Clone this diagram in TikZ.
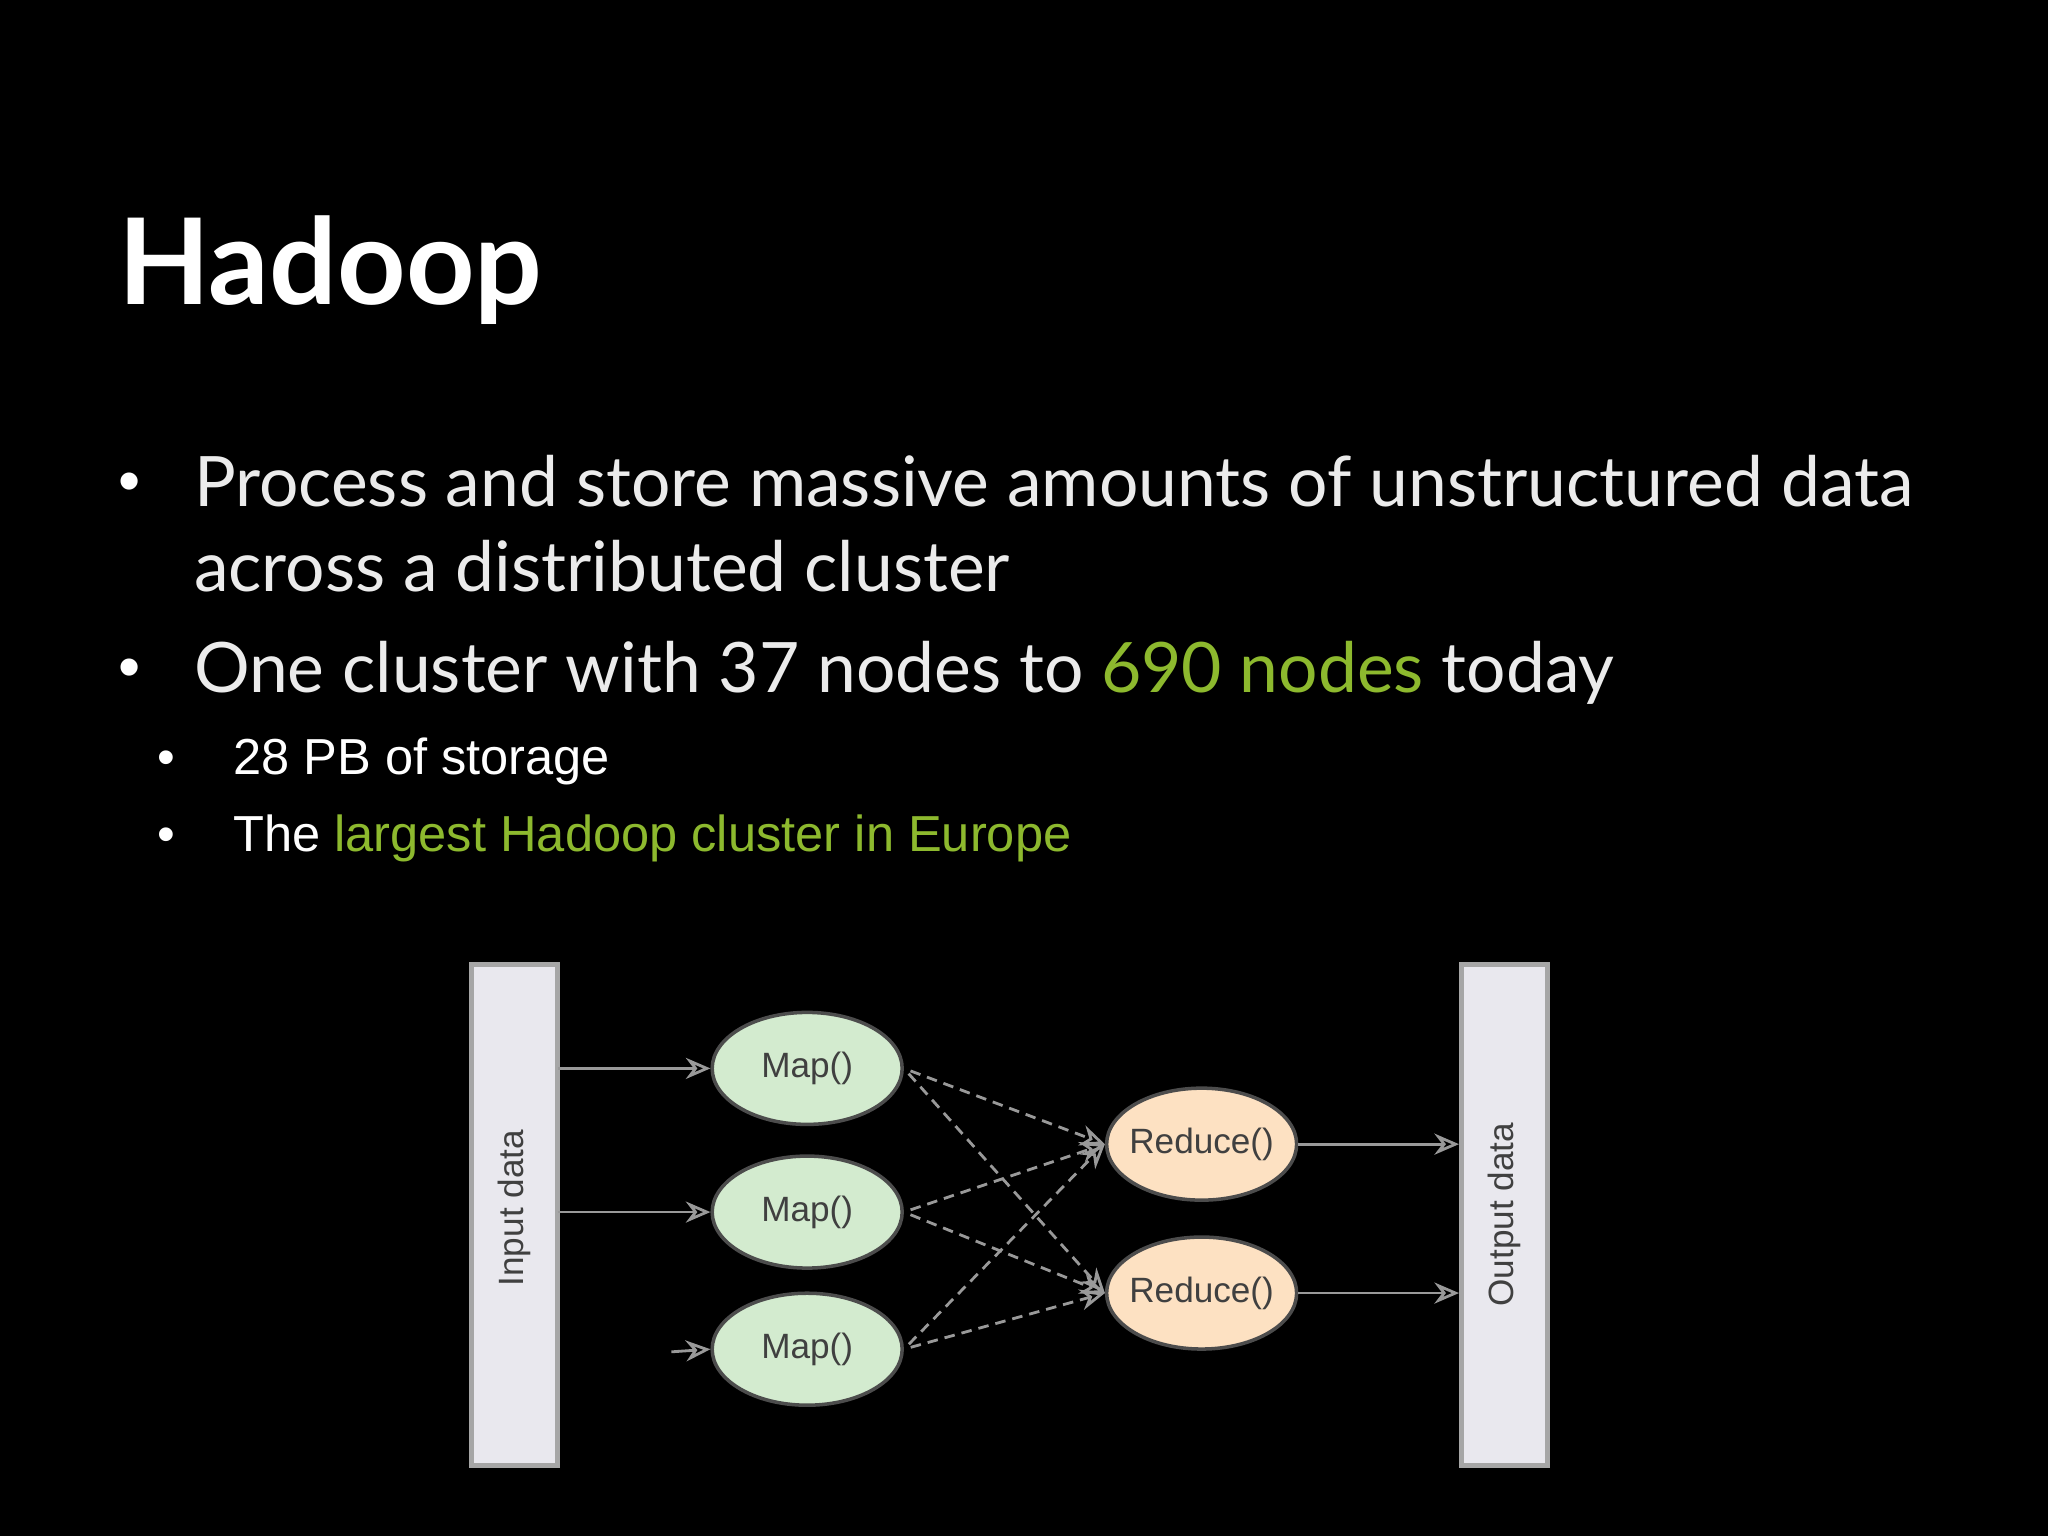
\documentclass[tikz,border=0pt]{standalone}
\usepackage{fontspec}
\setmainfont{Lato}
\newfontfamily\arialf{Liberation Sans}
\usetikzlibrary{arrows.meta,shapes.geometric}
\definecolor{hgreen}{HTML}{8DB92E}
\definecolor{mapfill}{HTML}{D3EBCF}
\definecolor{redfill}{HTML}{FDE1C2}
\definecolor{boxfill}{HTML}{E9E8EE}
\begin{document}
\begin{tikzpicture}[x=0.01306cm,y=-0.01306cm,
  txt/.style={anchor=base west,inner sep=0,text=white},
  bul/.style={txt,text=white!92!black,font=\fontsize{19.8}{24}\selectfont},
  sub/.style={txt,font=\arialf\fontsize{14.4}{16}\selectfont},
  store/.style={draw=gray!70,line width=1.5pt,fill=boxfill,minimum width=0.86cm,minimum height=5.01cm,inner sep=0},
  op/.style={ellipse,draw=gray!60!black,line width=1pt,inner xsep=-4pt,minimum width=1.9cm,minimum height=1.12cm,font=\arialf\fontsize{10}{12}\selectfont,text=black!75},
  arr/.style={draw=gray!80,line width=0.8pt,-{Stealth[open,length=7pt,width=6pt]}},
  darr/.style={arr,densely dashed}]
\fill[black] (0,0) rectangle (1568,1176);
\node[txt,font=\bfseries\fontsize{34}{40}\selectfont] (t) at (90,233) {Hadoop};
\node[sub,font=\arialf\fontsize{18}{20}\selectfont] (b1) at (90,385) {•};
\node[bul] (l1) at (148,388) {Process and store massive amounts of unstructured data};
\node[bul] (l2) at (148,453) {across a distributed cluster};
\node[sub,font=\arialf\fontsize{18}{20}\selectfont] (b2) at (90,527) {•};
\node[bul] (l3) at (148,530) {One cluster with 37 nodes to \textcolor{hgreen}{690 nodes} today};
\node[sub] (s1b) at (120,593) {•};
\node[sub] (s1) at (178,593) {28 PB of storage};
\node[sub] (s2b) at (120,652) {•};
\node[sub] (s2) at (178,652) {The \textcolor{hgreen}{largest Hadoop cluster in Europe}};
% diagram
\node[store] (in) at (394,930) {};
\node[rotate=90,font=\arialf\fontsize{10}{12}\selectfont,text=black!75] (inl) at (394,925) {Input data};
\node[store] (out) at (1152,930) {};
\node[rotate=90,font=\arialf\fontsize{10}{12}\selectfont,text=black!75] (outl) at (1152,930) {Output data};
\node[op,fill=mapfill] (m1) at (618,818) {Map()};
\node[op,fill=mapfill] (m2) at (618,928) {Map()};
\node[op,fill=mapfill] (m3) at (618,1033) {Map()};
\node[op,fill=redfill] (r1) at (920,876) {Reduce()};
\node[op,fill=redfill] (r2) at (920,990) {Reduce()};
\coordinate (i1) at (427,818); \coordinate (i2) at (427,928);
\coordinate (i3a) at (514,1035);
\draw[arr] (i1) -- (m1.west);
\draw[arr] (i2) -- (m2.west);
\draw[arr] (i3a) -- (m3.west);
\foreach \m in {m1,m2,m3}{\foreach \r in {r1,r2}{\draw[darr,shorten <=2pt] (\m.east) -- (\r.west);}}
\draw[arr] (r1.east) -- (out.west|-r1);
\draw[arr] (r2.east) -- (out.west|-r2);
\end{tikzpicture}
\end{document}
